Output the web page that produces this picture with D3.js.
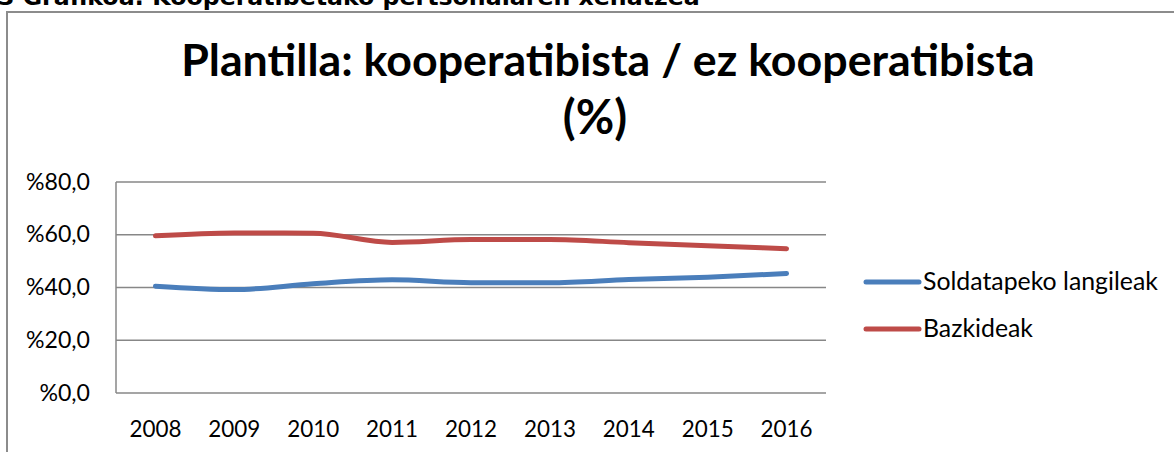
<!DOCTYPE html>
<html>
<head>
<meta charset="utf-8">
<script src="https://cdn.jsdelivr.net/npm/d3@7"></script>
<style>
  html, body { margin: 0; padding: 0; background: #fff; overflow: hidden; }
  svg { display: block; }
</style>
</head>
<body>
<svg id="chart" width="1174" height="452"></svg>
<script>
// ---- data ----
const years = ["2008", "2009", "2010", "2011", "2012", "2013", "2014", "2015", "2016"];
const soldatapekoLangileak = [40.5, 39.2, 41.4, 42.9, 41.8, 41.8, 43.0, 43.9, 45.3];
const bazkideak = [59.6, 60.7, 60.6, 57.1, 58.2, 58.2, 57.0, 55.8, 54.7];
const seriesNames = ["Soldatapeko langileak", "Bazkideak"];
const yTicks = [0, 20, 40, 60, 80];
const headerText = "3 Grafikoa: Kooperatibetako pertsonalaren xehatzea";
const titleLines = ["Plantilla: kooperatibista / ez kooperatibista", "(%)"];

const colors = ["#4a7ebb", "#be4b48"];
const series = [soldatapekoLangileak, bazkideak];

const svg = d3.select("#chart");
const font = "Lato, 'Open Sans', sans-serif";

function fitSize(str, targetWidth, weight, family) {
  const tmp = svg.append("text")
    .attr("font-family", family || font)
    .attr("font-weight", weight || "normal")
    .attr("font-size", 20).text(str);
  const w = tmp.node().getComputedTextLength();
  tmp.remove();
  return 20 * targetWidth / w;
}

// header (cut by the top edge, as in the reference)
svg.append("text")
  .attr("x", -2).attr("y", 5)
  .attr("font-family", "'DejaVu Sans', Verdana, sans-serif")
  .attr("font-weight", "bold")
  .attr("font-size", fitSize(headerText, 702, "bold", "'DejaVu Sans', Verdana, sans-serif"))
  .attr("fill", "#000")
  .text(headerText);

// chart frame
svg.append("path")
  .attr("d", "M7,460 V12 H1180")
  .attr("fill", "none")
  .attr("stroke", "#8c8c8c")
  .attr("stroke-width", 2);

// title
const tSize = fitSize(titleLines[0], 854, "bold");
svg.append("text")
  .attr("x", 608).attr("y", 76)
  .attr("text-anchor", "middle")
  .attr("font-family", font).attr("font-weight", "bold")
  .attr("font-size", tSize)
  .attr("fill", "#000")
  .text(titleLines[0]);
svg.append("text")
  .attr("x", 595).attr("y", 134)
  .attr("text-anchor", "middle")
  .attr("font-family", font).attr("font-weight", "bold")
  .attr("font-size", tSize * 1.05)
  .attr("fill", "#000")
  .text(titleLines[1]);

// scales
const x = d3.scalePoint().domain(years).range([116, 826]).padding(0.5);
const y = d3.scaleLinear().domain([0, 80]).range([393, 182]);

// gridlines
svg.append("g").selectAll("line").data(yTicks).join("line")
  .attr("x1", 116).attr("x2", 826)
  .attr("y1", d => y(d)).attr("y2", d => y(d))
  .attr("stroke", "#878787").attr("stroke-width", 1.5);

// y axis line
svg.append("line")
  .attr("x1", 116).attr("x2", 116)
  .attr("y1", y(80)).attr("y2", y(0))
  .attr("stroke", "#878787").attr("stroke-width", 1.5);

// y tick labels
const fmt = v => "%" + v.toFixed(1).replace(".", ",");
const ySize = fitSize(fmt(80), 64);
svg.append("g").selectAll("text").data(yTicks).join("text")
  .attr("x", 90).attr("y", d => y(d) + 7.5)
  .attr("text-anchor", "end")
  .attr("font-family", font).attr("font-size", ySize)
  .attr("fill", "#000")
  .text(fmt);

// x tick labels
const xSize = fitSize("2008", 52);
svg.append("g").selectAll("text").data(years).join("text")
  .attr("x", d => x(d)).attr("y", 437)
  .attr("text-anchor", "middle")
  .attr("font-family", font).attr("font-size", xSize)
  .attr("fill", "#000")
  .text(d => d);

// lines
const line = d3.line()
  .x((d, i) => x(years[i]))
  .y(d => y(d))
  .curve(d3.curveMonotoneX);

svg.append("g").selectAll("path").data(series).join("path")
  .attr("d", d => line(d))
  .attr("fill", "none")
  .attr("stroke", (d, i) => colors[i])
  .attr("stroke-width", 5)
  .attr("stroke-linecap", "round")
  .attr("stroke-linejoin", "round");

// legend
const legY = [282, 329];
const lSize = fitSize(seriesNames[0], 235);
const leg = svg.append("g").selectAll("g").data(seriesNames).join("g");
leg.append("line")
  .attr("x1", 866).attr("x2", 919)
  .attr("y1", (d, i) => legY[i]).attr("y2", (d, i) => legY[i])
  .attr("stroke", (d, i) => colors[i])
  .attr("stroke-width", 5)
  .attr("stroke-linecap", "round");
leg.append("text")
  .attr("x", 923).attr("y", (d, i) => legY[i] + 8)
  .attr("font-family", font).attr("font-size", lSize)
  .attr("fill", "#000")
  .text(d => d);
</script>
</body>
</html>
